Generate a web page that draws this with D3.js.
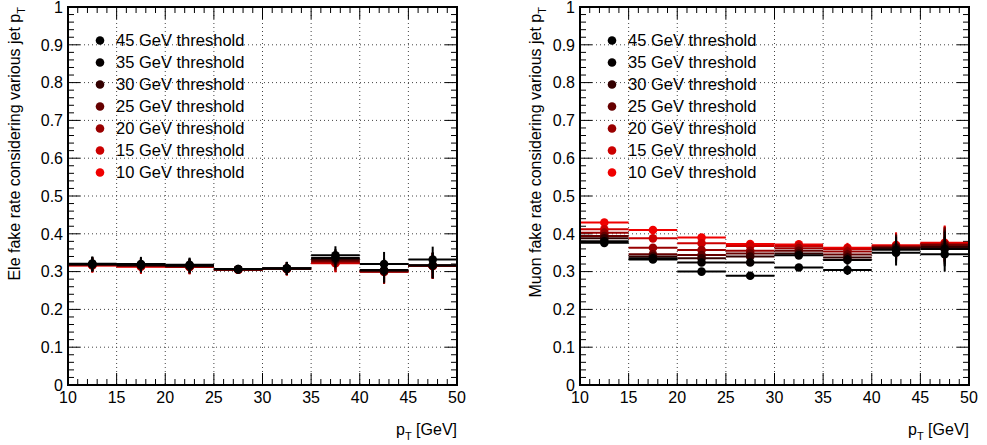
<!DOCTYPE html>
<html>
<head>
<meta charset="utf-8">
<script src="https://cdn.jsdelivr.net/npm/d3@7"></script>
<style>
  html, body { margin: 0; padding: 0; background: #fff; }
  svg { display: block; }
  text { font-family: "Liberation Sans", Arial, Helvetica, sans-serif; fill: #000; }
</style>
</head>
<body>
<svg id="chart" width="987" height="445"></svg>
<script>
// ---------------- data ----------------
const binEdges = [10, 15, 20, 25, 30, 35, 40, 45, 50];
const thresholds = ["45", "35", "30", "25", "20", "15", "10"];
const seriesColors = ["#000000", "#050000", "#330000", "#660000", "#990000", "#cc0000", "#f00000"];
const xTicks = [10, 15, 20, 25, 30, 35, 40, 45, 50];
const yTicks = [0, 0.1, 0.2, 0.3, 0.4, 0.5, 0.6, 0.7, 0.8, 0.9, 1];
const yTickLabels = ["0", "0.1", "0.2", "0.3", "0.4", "0.5", "0.6", "0.7", "0.8", "0.9", "1"];

// Electron fake rate, one row per threshold (45 ... 10 GeV)
const ele45 = [0.321, 0.320, 0.318, 0.307, 0.309, 0.343, 0.320, 0.332];
const ele35 = [0.320, 0.318, 0.316, 0.306, 0.308, 0.336, 0.304, 0.317];
const ele30 = [0.319, 0.317, 0.315, 0.306, 0.308, 0.333, 0.302, 0.316];
const ele25 = [0.318, 0.316, 0.314, 0.306, 0.308, 0.329, 0.301, 0.316];
const ele20 = [0.318, 0.315, 0.313, 0.305, 0.307, 0.326, 0.300, 0.315];
const ele15 = [0.317, 0.314, 0.312, 0.305, 0.307, 0.323, 0.300, 0.315];
const ele10 = [0.316, 0.313, 0.312, 0.305, 0.307, 0.322, 0.300, 0.315];
const eleErr = [0.019, 0.019, 0.019, 0.011, 0.017, 0.024, 0.032, 0.034];

// Muon fake rate
const mu45 = [0.376, 0.332, 0.300, 0.289, 0.311, 0.304, 0.350, 0.346];
const mu35 = [0.380, 0.335, 0.324, 0.324, 0.343, 0.331, 0.358, 0.360];
const mu30 = [0.388, 0.340, 0.335, 0.340, 0.348, 0.337, 0.362, 0.365];
const mu25 = [0.394, 0.346, 0.344, 0.348, 0.355, 0.345, 0.364, 0.370];
const mu20 = [0.403, 0.363, 0.357, 0.355, 0.362, 0.353, 0.366, 0.372];
const mu15 = [0.412, 0.388, 0.375, 0.368, 0.368, 0.360, 0.368, 0.374];
const mu10 = [0.430, 0.410, 0.390, 0.373, 0.372, 0.363, 0.370, 0.376];
const muErr = [0.008, 0.008, 0.008, 0.008, 0.008, 0.013, 0.034, 0.046];

const eleSeries = [ele45, ele35, ele30, ele25, ele20, ele15, ele10];
const muSeries = [mu45, mu35, mu30, mu25, mu20, mu15, mu10];

// ---------------- drawing ----------------
const svg = d3.select("#chart");
const frameTop = 7, frameBottom = 385;

function panel(x0, x1, series, errs, yTitle, yTitleX) {
  const x = d3.scaleLinear().domain([10, 50]).range([x0, x1]);
  const y = d3.scaleLinear().domain([0, 1]).range([frameBottom, frameTop]);
  const g = svg.append("g");

  // grid
  g.selectAll(".gx").data(xTicks.slice(1, -1)).join("line")
    .attr("x1", d => x(d)).attr("x2", d => x(d)).attr("y1", frameTop).attr("y2", frameBottom)
    .attr("stroke", "#444").attr("stroke-width", 1).attr("stroke-dasharray", "1,3");
  g.selectAll(".gy").data(yTicks.slice(1, -1)).join("line")
    .attr("y1", d => y(d)).attr("y2", d => y(d)).attr("x1", x0).attr("x2", x1)
    .attr("stroke", "#444").attr("stroke-width", 1).attr("stroke-dasharray", "1,3");

  // ticks (inside, all four sides)
  const xMinor = d3.range(10, 50.001, 1);
  const yMinor = d3.range(0, 1.0001, 0.02);
  const tk = g.append("g").attr("stroke", "#000").attr("stroke-width", 1);
  xMinor.forEach(v => {
    const len = (Math.abs(v % 5) < 1e-6) ? 12 : 6;
    tk.append("line").attr("x1", x(v)).attr("x2", x(v)).attr("y1", frameBottom).attr("y2", frameBottom - len);
    tk.append("line").attr("x1", x(v)).attr("x2", x(v)).attr("y1", frameTop).attr("y2", frameTop + len);
  });
  yMinor.forEach((v, i) => {
    const len = (i % 5 === 0) ? 12 : 6;
    tk.append("line").attr("y1", y(v)).attr("y2", y(v)).attr("x1", x0).attr("x2", x0 + len);
    tk.append("line").attr("y1", y(v)).attr("y2", y(v)).attr("x1", x1).attr("x2", x1 - len);
  });

  // data: draw 10 GeV first, 45 GeV last
  for (let s = series.length - 1; s >= 0; s--) {
    const vals = series[s];
    const col = seriesColors[s];
    const sg = g.append("g");
    vals.forEach((v, i) => {
      const xl = binEdges[i], xr = binEdges[i + 1], xc = (xl + xr) / 2;
      sg.append("line").attr("x1", x(xl)).attr("x2", x(xr)).attr("y1", y(v)).attr("y2", y(v))
        .attr("stroke", col).attr("stroke-width", 2);
      sg.append("line").attr("x1", x(xc)).attr("x2", x(xc)).attr("y1", y(v - errs[i])).attr("y2", y(v + errs[i]))
        .attr("stroke", col).attr("stroke-width", 2);
      sg.append("circle").attr("cx", x(xc)).attr("cy", y(v)).attr("r", 4.3).attr("fill", col);
    });
  }

  // frame
  g.append("rect").attr("x", x0).attr("y", frameTop).attr("width", x1 - x0).attr("height", frameBottom - frameTop)
    .attr("fill", "none").attr("stroke", "#000").attr("stroke-width", 2);

  // tick labels
  g.selectAll(".xl").data(xTicks).join("text")
    .attr("x", d => x(d)).attr("y", 403).attr("text-anchor", "middle")
    .attr("font-size", 16).text(d => d);
  g.selectAll(".yl").data(yTicks).join("text")
    .attr("x", x0 - 5).attr("y", d => y(d)).attr("dy", "0.36em").attr("text-anchor", "end")
    .attr("font-size", 16).text((d, i) => yTickLabels[i]);

  // x title
  const xt = g.append("text").attr("x", x1).attr("y", 435).attr("text-anchor", "end").attr("font-size", 16);
  xt.append("tspan").text("p");
  xt.append("tspan").attr("font-size", 11).attr("dy", 5).text("T");
  xt.append("tspan").attr("dy", -5).text(" [GeV]");

  // y title
  const yt = g.append("text").attr("transform", `translate(${yTitleX},${frameTop}) rotate(-90)`)
    .attr("text-anchor", "end").attr("font-size", 16);
  yt.append("tspan").text(yTitle);
  yt.append("tspan").attr("font-size", 11).attr("dy", 5).text("T");

  // legend
  thresholds.forEach((t, i) => {
    const cy = 40.5 + i * 22;
    g.append("circle").attr("cx", x0 + 32).attr("cy", cy).attr("r", 4.3).attr("fill", seriesColors[i]);
    g.append("text").attr("x", x0 + 48).attr("y", cy).attr("dy", "0.36em").attr("font-size", 16.5)
      .text(t + " GeV threshold");
  });
}

panel(68, 457, eleSeries, eleErr, "Ele fake rate considering various jet p", 20);
panel(580, 969, muSeries, muErr, "Muon fake rate considering various jet p", 541);
</script>
</body>
</html>
